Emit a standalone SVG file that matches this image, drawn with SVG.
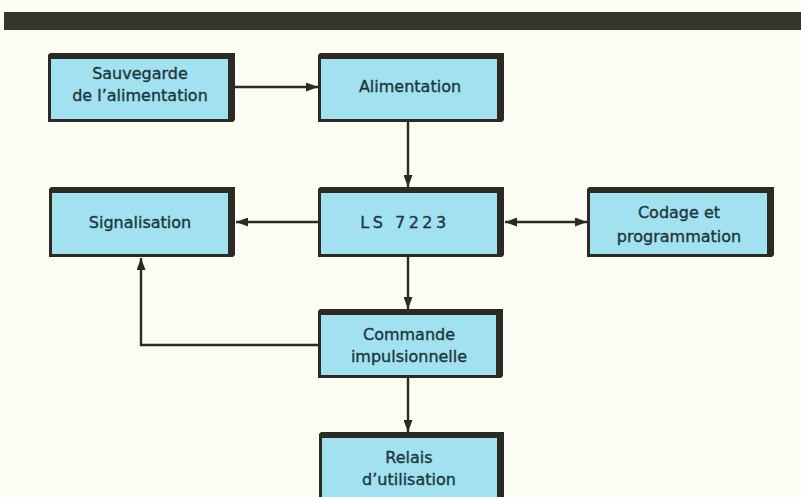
<svg xmlns="http://www.w3.org/2000/svg" width="801" height="497" viewBox="0 0 801 497">
<style>
.frame{fill:#2b2b24}
.fill{fill:#a2e1ef}
.t{font-family:"DejaVu Sans",sans-serif;font-size:16px;fill:#1c363c;stroke:#1c363c;stroke-width:0.35;text-anchor:middle}
.c{stroke:#2b2b24;stroke-width:2.4;fill:none}
</style>
<defs>
<marker id="ah" viewBox="0 0 12 9" refX="12" refY="4.5" markerWidth="12" markerHeight="9" markerUnits="userSpaceOnUse" orient="auto-start-reverse">
<path d="M0,0 L12,4.5 L0,9 Z" fill="#2b2b24"/>
</marker>
</defs>
<rect width="801" height="497" fill="#fcfbf4"/>
<rect x="4" y="12" width="797" height="18" fill="#34362c"/>
<g id="connectors">
<line class="c" x1="235" y1="87" x2="318" y2="87" marker-end="url(#ah)"/>
<line class="c" x1="408" y1="122" x2="408" y2="187" marker-end="url(#ah)"/>
<line class="c" x1="318" y1="222" x2="236" y2="222" marker-end="url(#ah)"/>
<line class="c" x1="505" y1="222" x2="587" y2="222" marker-start="url(#ah)" marker-end="url(#ah)"/>
<line class="c" x1="408" y1="257" x2="408" y2="309" marker-end="url(#ah)"/>
<polyline class="c" points="318,345 141,345 141,258" marker-end="url(#ah)"/>
<line class="c" x1="408" y1="378" x2="408" y2="432" marker-end="url(#ah)"/>
</g>
<g id="sauvegarde">
<path class="frame" d="M50,53 H235 V120 L233,122 H48 V55 Z"/>
<rect class="fill" x="51" y="59" width="177" height="60"/>
<text class="t" x="140" y="79">Sauvegarde</text>
<text class="t" x="140" y="101">de l’alimentation</text>
</g>
<g id="alimentation">
<path class="frame" d="M320,53 H504 V120 L502,122 H318 V55 Z"/>
<rect class="fill" x="321" y="59" width="176" height="60"/>
<text class="t" x="410" y="92">Alimentation</text>
</g>
<g id="signalisation">
<path class="frame" d="M51,187 H235 V255 L233,257 H49 V189 Z"/>
<rect class="fill" x="52" y="193" width="176" height="61"/>
<text class="t" x="140" y="228">Signalisation</text>
</g>
<g id="ls7223">
<path class="frame" d="M320,187 H504 V255 L502,257 H318 V189 Z"/>
<rect class="fill" x="321" y="193" width="176" height="61"/>
<text class="t" x="405" y="228" style="letter-spacing:3.5px">LS 7223</text>
</g>
<g id="codage">
<path class="frame" d="M589,187 H774 V255 L772,257 H587 V189 Z"/>
<rect class="fill" x="590" y="193" width="177" height="61"/>
<text class="t" x="679" y="218">Codage et</text>
<text class="t" x="679" y="242">programmation</text>
</g>
<g id="commande">
<path class="frame" d="M320,309 H503 V376 L501,378 H318 V311 Z"/>
<rect class="fill" x="321" y="315" width="175" height="60"/>
<text class="t" x="409" y="340">Commande</text>
<text class="t" x="409" y="362">impulsionnelle</text>
</g>
<g id="relais">
<path class="frame" d="M321,432 H504 V497 H319 V434 Z"/>
<rect class="fill" x="322" y="438" width="175" height="59"/>
<text class="t" x="409" y="463">Relais</text>
<text class="t" x="409" y="485">d’utilisation</text>
</g>
</svg>
